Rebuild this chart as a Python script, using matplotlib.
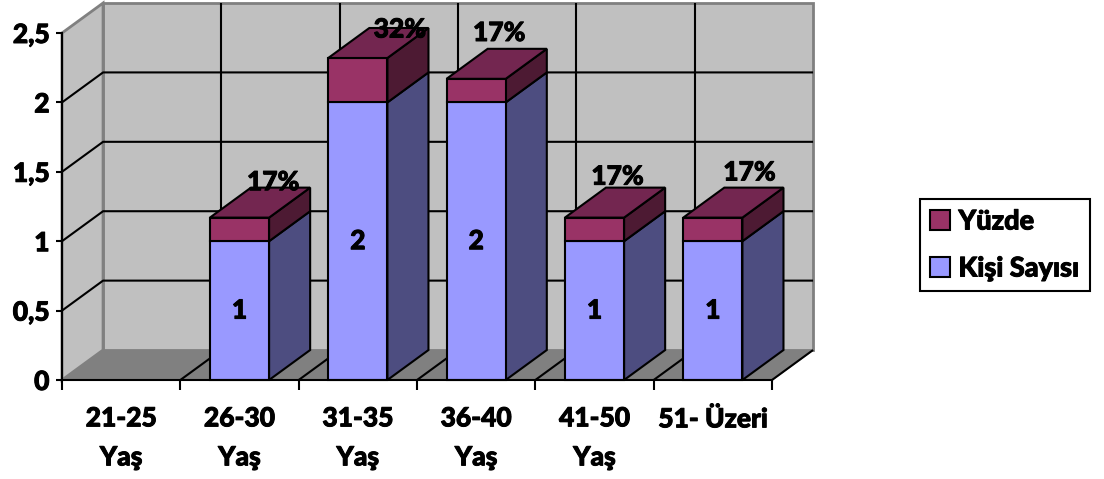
import matplotlib
matplotlib.use("Agg")
from matplotlib import pyplot as plt
from matplotlib import patheffects
from matplotlib.patches import Patch, Polygon
from matplotlib.text import Text

categories = ["21-25\nYaş", "26-30\nYaş", "31-35\nYaş", "36-40\nYaş", "41-50\nYaş", "51- Üzeri"]
kisi_sayisi = [0, 1, 2, 2, 1, 1]
yuzde = [0, 0.17, 0.32, 0.17, 0.17, 0.17]
yuzde_labels = ["", "17%", "32%", "17%", "17%", "17%"]
kisi_labels = ["", "1", "2", "2", "1", "1"]
y_ticks = [0, 0.5, 1, 1.5, 2, 2.5]
y_tick_labels = ["0", "0,5", "1", "1,5", "2", "2,5"]

# the fake 3d look, depth of the box in data units
dx = 0.347
dy = 0.216
bar_w = 0.5

plt.rcParams["font.family"] = ["Lato", "DejaVu Sans"]
plt.rcParams["font.weight"] = "black"
fs = 19

fig = plt.figure(figsize=(11.04, 4.79), dpi=100)
ax = fig.add_axes([62 / 1104, 99 / 479, 710 / 1104, 347 / 479])
ax.set_xlim(0, 6)
ax.set_ylim(0, 2.5)
ax.patch.set_visible(False)


def poly(points, face, edge="black", lw=1.5, z=3):
    ax.add_patch(Polygon(points, closed=True, facecolor=face, edgecolor=edge,
                         linewidth=lw, clip_on=False, zorder=z, joinstyle="miter"))


def line(xs, ys, color="black", lw=1.5, z=2):
    ax.plot(xs, ys, color=color, linewidth=lw, clip_on=False, zorder=z, solid_capstyle="butt")


# walls and floor
poly([(0, 0), (6, 0), (6 + dx, dy), (dx, dy)], "#808080", edge="#808080", lw=1, z=1)
poly([(dx, dy), (6 + dx, dy), (6 + dx, 2.5 + dy), (dx, 2.5 + dy)], "#c0c0c0", edge="#808080", lw=2, z=1)
poly([(0, 0), (dx, dy), (dx, 2.5 + dy), (0, 2.5)], "#c0c0c0", edge="#808080", lw=2, z=1)

# gridlines
for t in y_ticks[1:-1]:
    line([0, dx, 6 + dx], [t, t + dy, t + dy])
for i in range(1, 6):
    line([i + dx, i + dx], [dy, 2.5 + dy])
for i in range(1, 7):
    line([i, i + dx], [0, dy])


def box(x, y0, y1, front, side, top=None):
    x1 = x + bar_w
    poly([(x1, y0), (x1 + dx, y0 + dy), (x1 + dx, y1 + dy), (x1, y1)], side)
    poly([(x, y0), (x1, y0), (x1, y1), (x, y1)], front)
    if top:
        poly([(x, y1), (x1, y1), (x1 + dx, y1 + dy), (x + dx, y1 + dy)], top)


for i in range(len(categories)):
    if kisi_sayisi[i] == 0:
        continue
    x = i + 0.25
    box(x, 0, kisi_sayisi[i], "#9999ff", "#4d4d80")
    box(x, kisi_sayisi[i], kisi_sayisi[i] + yuzde[i], "#993366", "#4d1a33", "#732650")
    ax.text(i + 0.5, kisi_sayisi[i] / 2, kisi_labels[i], ha="center", va="center",
            fontsize=fs, zorder=6)

# percent labels sit a bit off the bar, each one by hand like in the original
label_dx = [0, 0.285, 0.355, 0.195, 0.195, 0.31]
label_dy = [0, 0.255, 0.205, 0.33, 0.295, 0.325]
for i in range(len(categories)):
    if yuzde_labels[i]:
        ax.text(i + 0.5 + label_dx[i], kisi_sayisi[i] + yuzde[i] + label_dy[i], yuzde_labels[i],
                ha="center", va="center", fontsize=fs, zorder=6)

for s in ["top", "right"]:
    ax.spines[s].set_visible(False)
for s in ["left", "bottom"]:
    ax.spines[s].set_linewidth(1.5)
    ax.spines[s].set_zorder(4)

ax.set_yticks(y_ticks, y_tick_labels, fontsize=fs)
ax.tick_params(axis="y", length=4, width=1.5, pad=5)
ax.set_xticks(range(7), [""] * 7)
ax.tick_params(axis="x", which="major", length=7, width=1.5)
ax.set_xticks([i + 0.5 for i in range(6)], categories, minor=True, fontsize=fs, linespacing=1.75)
ax.tick_params(axis="x", which="minor", length=0, pad=19)

handles = [Patch(facecolor="#993366", edgecolor="black", linewidth=1.5),
           Patch(facecolor="#9999ff", edgecolor="black", linewidth=1.5)]
leg = fig.legend(handles, ["Yüzde", "Kişi Sayısı"], loc="center left",
                 bbox_to_anchor=(920 / 1104, 1 - 245 / 479), fontsize=19.5, fancybox=False,
                 framealpha=1, edgecolor="black", handlelength=0.74, handleheight=0.74,
                 handletextpad=0.3, labelspacing=0.85, borderpad=0.38, borderaxespad=0)
leg.get_frame().set_linewidth(1.5)

# lato black still comes out thinner than the original, fatten it a little
for t in fig.findobj(Text):
    t.set_path_effects([patheffects.withStroke(linewidth=0.7, foreground="black")])

fig.savefig("out.png", dpi=100)
